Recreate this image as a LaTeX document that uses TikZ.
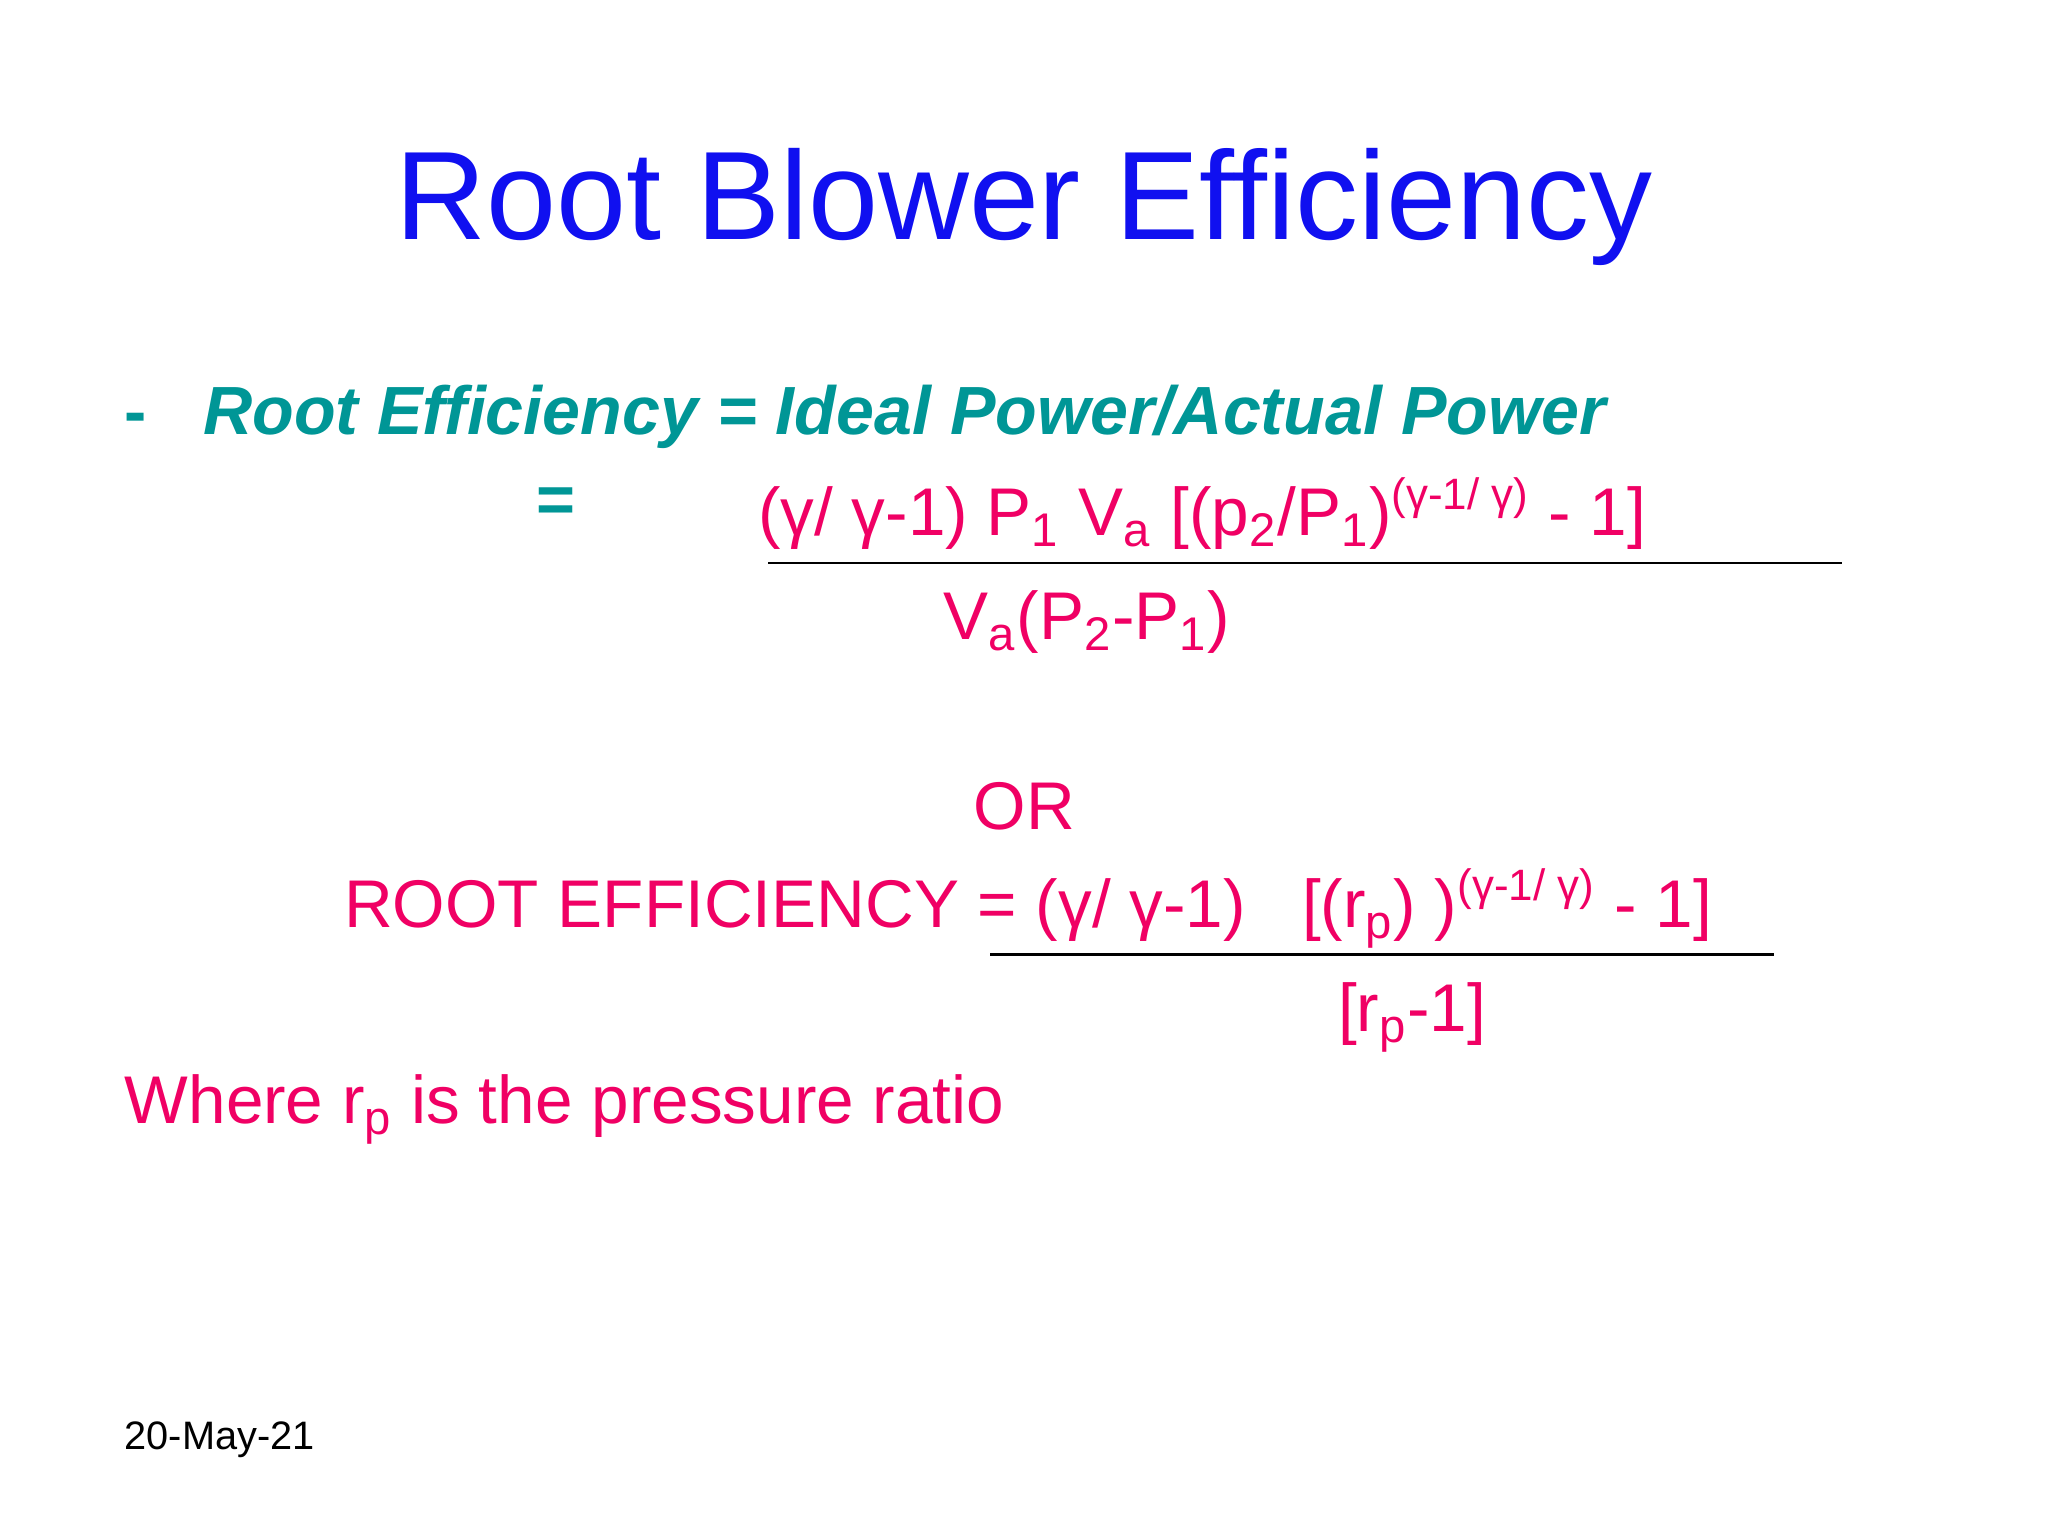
\documentclass[tikz,border=0pt]{standalone}
\usepackage{fontspec}
\setmainfont{Liberation Sans}
\definecolor{tblue}{RGB}{16,16,240}
\definecolor{teal2}{RGB}{0,150,150}
\definecolor{pink2}{RGB}{240,0,100}
\newcommand\sub[1]{\textsubscript{#1}}
\newcommand\sups[1]{\textsuperscript{\fontsize{12.5}{13}\selectfont #1}}
\begin{document}
\begin{tikzpicture}[x=0.01306cm,y=-0.01306cm,
  txt/.style={inner sep=0pt,anchor=base west},
  pk/.style={txt,text=pink2,font=\fontsize{19.2}{22}\selectfont},
  tl/.style={txt,text=teal2,font=\fontsize{19.4}{22}\selectfont\bfseries\itshape}]
\fill[white] (0,0) rectangle (1568,1176);
\node[inner sep=0pt,anchor=base,text=tblue,font=\fontsize{35.8}{42}\selectfont] (title) at (784,183) {Root Blower Efficiency};
\node[txt,text=teal2,font=\fontsize{19}{22}\selectfont\bfseries] (dash) at (95,333) {-};
\node[tl] (l1) at (155,333) {Root Efficiency = Ideal Power/Actual Power};
\node[txt,text=teal2,font=\fontsize{19}{22}\selectfont\bfseries] (eq) at (410,400) {=};
\node[pk] (num1) at (580,410) {(γ/ γ-1) P\sub{1} V\sub{a} [(p\sub{2}/P\sub{1})\sups{(γ-1/ γ)} - 1]};
\coordinate (f1a) at (588,431); \coordinate (f1b) at (1410,431);
\draw[line width=0.8pt] (f1a) -- (f1b);
\node[pk] (den1) at (722,490) {V\sub{a}(P\sub{2}-P\sub{1})};
\node[pk] (or) at (745,635) {OR};
\node[pk] (l2) at (263,710) {ROOT EFFICIENCY = (γ/ γ-1) \ \ [(r\sub{p}) )\sups{(γ-1/ γ)} - 1]};
\coordinate (f2a) at (758,731); \coordinate (f2b) at (1358,731);
\draw[line width=0.8pt] (f2a) -- (f2b);
\node[pk] (den2) at (1024,790) {[r\sub{p}-1]};
\node[pk] (where) at (95,860) {Where r\sub{p} is the pressure ratio};
\node[txt,font=\fontsize{11.3}{13}\selectfont] (date) at (95,1110) {20-May-21};
\end{tikzpicture}
\end{document}
